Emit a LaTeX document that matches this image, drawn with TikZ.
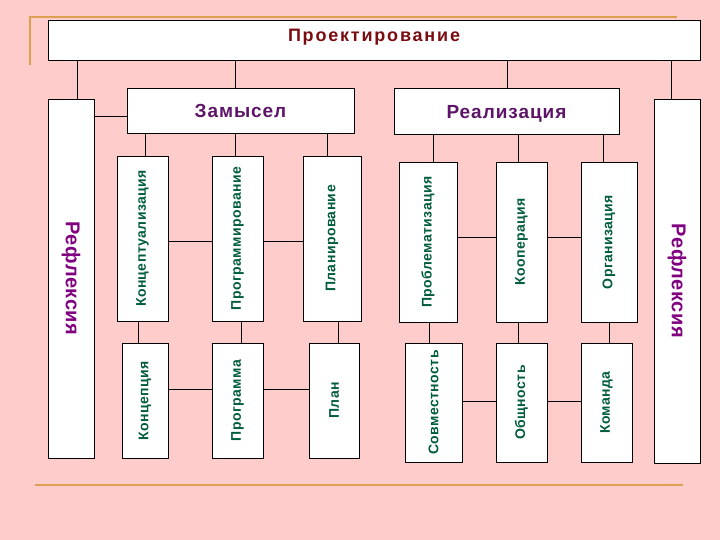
\documentclass[tikz,border=0pt]{standalone}
\usepackage{fontspec}
\usepackage{graphicx}
\setmainfont{Liberation Sans}
\newfontfamily\spacedA[LetterSpace=3]{Liberation Sans}
\newfontfamily\spacedB[LetterSpace=5]{Liberation Sans}
\newfontfamily\spacedC[LetterSpace=10]{Liberation Sans}
\definecolor{bgpink}{HTML}{FFCCCC}
\definecolor{ornline}{HTML}{DDA050}
\definecolor{titlered}{HTML}{7A0C10}
\definecolor{zampurple}{HTML}{5E1468}
\definecolor{refpurple}{HTML}{800080}
\definecolor{txtgreen}{HTML}{005C3C}
\tikzset{
  box/.style={draw=black, line width=0.8pt, fill=white, inner sep=0pt, anchor=center},
  conn/.style={draw=black, line width=0.8pt},
  orn/.style={draw=ornline, line width=2pt},
  gtxt/.style={text=txtgreen, font=\spacedA\fontsize{14}{16}\selectfont\bfseries},
  reftxt/.style={text=refpurple, font=\spacedA\fontsize{20}{22}\selectfont\bfseries},
  headtxt/.style={text=zampurple, font=\spacedB\fontsize{19}{21}\selectfont\bfseries},
}
\begin{document}
\begin{tikzpicture}[x=1pt,y=-1pt]
\fill[bgpink] (0,0) rectangle (720,540);
\useasboundingbox (0,0) rectangle (720,540);
% ornament lines
\draw[orn] (30,65) -- (30,17) -- (677,17);
\draw[orn] (35,485) -- (683,485);
% boxes
\node[box, minimum width=652pt, minimum height=40pt, text=titlered, font=\spacedC\fontsize{18}{20}\selectfont\bfseries, text height=13pt, text depth=9pt] (title) at (374,40) {Проектирование};
\node[box, reftxt, minimum width=46pt, minimum height=359pt] (reflL) at (71,278.5) {\rotatebox{-90}{Рефлексия}};
\node[box, reftxt, minimum width=46pt, minimum height=364pt] (reflR) at (677,281) {\rotatebox{-90}{Рефлексия}};
\node[box, headtxt, minimum width=227pt, minimum height=45pt] (zam) at (240.5,110.5) {Замысел};
\node[box, headtxt, minimum width=225pt, minimum height=46pt, text height=20pt, text depth=4pt] (real) at (506.5,111) {Реализация};
% upper row
\node[box, gtxt, minimum width=51pt, minimum height=165pt] (k1) at (142.5,238.5) {\rotatebox{90}{Концептуализация}};
\node[box, gtxt, minimum width=51pt, minimum height=165pt] (k2) at (237.5,238.5) {\rotatebox{90}{Программирование}};
\node[box, gtxt, minimum width=58pt, minimum height=165pt] (k3) at (332,238.5) {\rotatebox{90}{Планирование}};
\node[box, gtxt, minimum width=58pt, minimum height=160pt] (r1) at (428,242) {\rotatebox{90}{Проблематизация}};
\node[box, gtxt, minimum width=51pt, minimum height=160pt] (r2) at (521.5,242) {\rotatebox{90}{Кооперация}};
\node[box, gtxt, minimum width=56pt, minimum height=160pt] (r3) at (609,242) {\rotatebox{90}{Организация}};
% lower row
\node[box, gtxt, minimum width=46pt, minimum height=115pt] (b1) at (145,400.5) {\rotatebox{90}{Концепция}};
\node[box, gtxt, minimum width=51pt, minimum height=115pt] (b2) at (237.5,400.5) {\rotatebox{90}{Программа}};
\node[box, gtxt, minimum width=50pt, minimum height=115pt] (b3) at (334,400.5) {\rotatebox{90}{План}};
\node[box, gtxt, minimum width=57pt, minimum height=119pt] (c1) at (433.5,402.5) {\rotatebox{90}{Совместность}};
\node[box, gtxt, minimum width=51pt, minimum height=119pt] (c2) at (521.5,402.5) {\rotatebox{90}{Общность}};
\node[box, gtxt, minimum width=51pt, minimum height=119pt] (c3) at (606.5,402.5) {\rotatebox{90}{Команда}};
% connectors from title
\draw[conn] (title.south -| 77,0) -- (reflL.north -| 77,0);
\draw[conn] (title.south -| 235,0) -- (zam.north -| 235,0);
\draw[conn] (title.south -| 507,0) -- (real.north -| 507,0);
\draw[conn] (title.south -| 671,0) -- (reflR.north -| 671,0);
\draw[conn] (reflL.east |- 0,116) -- (zam.west |- 0,116);
% Zamysel to upper row
\draw[conn] (zam.south -| 145,0) -- (k1.north -| 145,0);
\draw[conn] (zam.south -| 235,0) -- (k2.north -| 235,0);
\draw[conn] (zam.south -| 327,0) -- (k3.north -| 327,0);
% Realizacia to upper row
\draw[conn] (real.south -| 433,0) -- (r1.north -| 433,0);
\draw[conn] (real.south -| 518,0) -- (r2.north -| 518,0);
\draw[conn] (real.south -| 603,0) -- (r3.north -| 603,0);
% horizontals upper
\draw[conn] (k1.east |- 0,241) -- (k2.west |- 0,241);
\draw[conn] (k2.east |- 0,241) -- (k3.west |- 0,241);
\draw[conn] (r1.east |- 0,237) -- (r2.west |- 0,237);
\draw[conn] (r2.east |- 0,237) -- (r3.west |- 0,237);
% verticals to lower row
\draw[conn] (k1.south -| 138,0) -- (b1.north -| 138,0);
\draw[conn] (k2.south -| 241,0) -- (b2.north -| 241,0);
\draw[conn] (k3.south -| 338,0) -- (b3.north -| 338,0);
\draw[conn] (r1.south -| 429,0) -- (c1.north -| 429,0);
\draw[conn] (r2.south -| 518,0) -- (c2.north -| 518,0);
\draw[conn] (r3.south -| 609,0) -- (c3.north -| 609,0);
% horizontals lower
\draw[conn] (b1.east |- 0,389) -- (b2.west |- 0,389);
\draw[conn] (b2.east |- 0,389) -- (b3.west |- 0,389);
\draw[conn] (c1.east |- 0,401) -- (c2.west |- 0,401);
\draw[conn] (c2.east |- 0,401) -- (c3.west |- 0,401);
\end{tikzpicture}
\end{document}
